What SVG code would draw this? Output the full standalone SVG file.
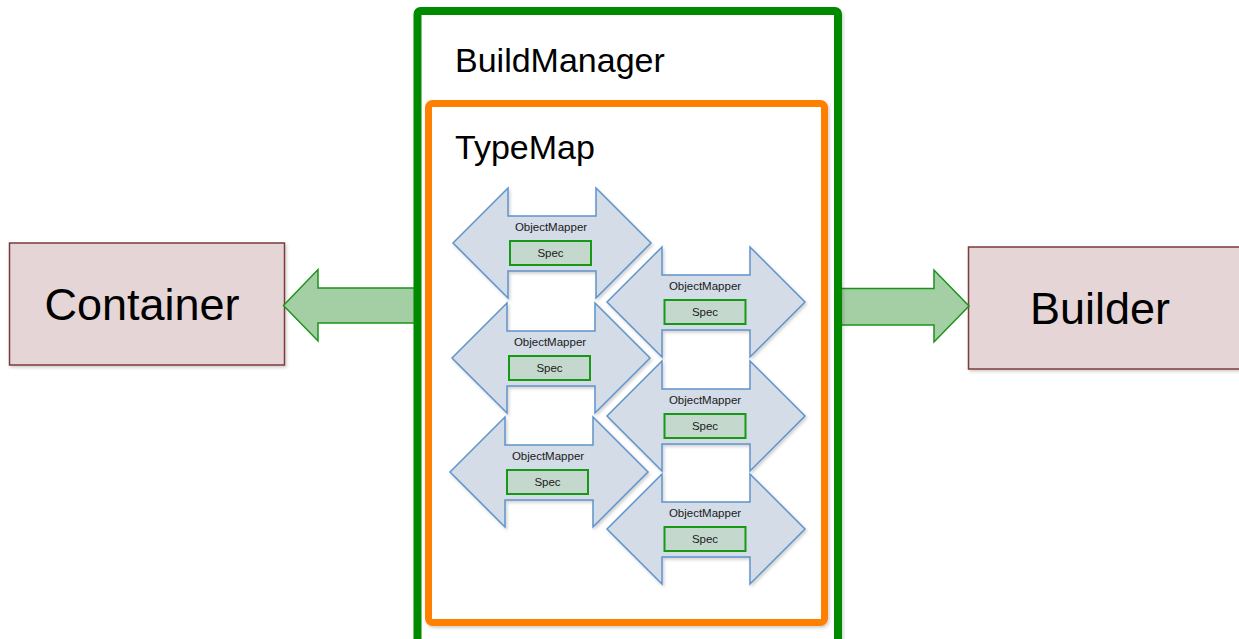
<svg xmlns="http://www.w3.org/2000/svg" width="1239" height="639" viewBox="0 0 1239 639">
<defs>
<filter id="sh" x="-10%" y="-10%" width="130%" height="130%">
<feDropShadow dx="1.5" dy="2" stdDeviation="1.5" flood-color="#000" flood-opacity="0.18"/>
</filter>
<path id="om" d="M0,0 L55,-55 L55,-27 L143,-27 L143,-55 L198,0 L143,55 L143,28 L55,28 L55,55 Z"/>
</defs>
<style>
.bg{fill:#ffffff}
.ext{fill:#e5d5d6;stroke:#7d3b3b;stroke-width:1.5}
.big{font-family:"Liberation Sans",Arial,sans-serif;font-size:45px;fill:#000}
.title{font-family:"Liberation Sans",Arial,sans-serif;font-size:34px;fill:#000}
.frame-g{fill:#fff;stroke:#008a00;stroke-width:8}
.frame-o{fill:#fff;stroke:#ff7f00;stroke-width:7}
.arr{fill:#d3dce7;stroke:#5f93cc;stroke-width:1.5}
.spec{fill:#c4d8cd;stroke:#169a16;stroke-width:2}
.sm{font-family:"Liberation Sans",Arial,sans-serif;font-size:11.5px;fill:#1a1a1a;text-anchor:middle}
.conn{fill:#a4cfa4;stroke:#1a941a;stroke-width:1.5}
</style>
<rect class="bg" width="1239" height="639"/>

<g id="container">
<rect class="ext" x="9.5" y="243" width="275" height="122" filter="url(#sh)"/>
<text class="big" x="142" y="320" text-anchor="middle">Container</text>
</g>

<g id="builder">
<rect class="ext" x="968.5" y="247" width="276" height="122" filter="url(#sh)"/>
<text class="big" x="1100" y="324" text-anchor="middle">Builder</text>
</g>

<g id="connectors">
<polygon class="conn" points="415,288 318,288 318,269.5 283.5,305.5 318,341 318,323 415,323"/>
<polygon class="conn" points="838,288.5 934,288.5 934,270 969,306 934,342 934,325 838,325"/>
</g>

<g id="buildmanager">
<rect class="frame-g" x="417.5" y="11" width="420.5" height="632" rx="3" filter="url(#sh)"/>
<text class="title" x="455" y="72">BuildManager</text>
</g>

<g id="typemap">
<rect class="frame-o" x="428.5" y="103.5" width="396" height="519" rx="4" filter="url(#sh)"/>
<text class="title" x="455" y="159">TypeMap</text>
</g>

<g id="om1">
<use href="#om" class="arr" transform="translate(453,243)" filter="url(#sh)"/>
<text class="sm" x="551" y="231">ObjectMapper</text>
<rect class="spec" x="510" y="241" width="81" height="24"/>
<text class="sm" x="550.5" y="257">Spec</text>
</g>

<g id="om2">
<use href="#om" class="arr" transform="translate(452,358)" filter="url(#sh)"/>
<text class="sm" x="550" y="346">ObjectMapper</text>
<rect class="spec" x="509" y="356" width="81" height="24"/>
<text class="sm" x="549.5" y="372">Spec</text>
</g>

<g id="om3">
<use href="#om" class="arr" transform="translate(450,472)" filter="url(#sh)"/>
<text class="sm" x="548" y="460">ObjectMapper</text>
<rect class="spec" x="507" y="470" width="81" height="24"/>
<text class="sm" x="547.5" y="486">Spec</text>
</g>

<g id="om4">
<use href="#om" class="arr" transform="translate(607,302)" filter="url(#sh)"/>
<text class="sm" x="705" y="290">ObjectMapper</text>
<rect class="spec" x="664.5" y="300" width="81" height="24"/>
<text class="sm" x="705" y="316">Spec</text>
</g>

<g id="om5">
<use href="#om" class="arr" transform="translate(607,416)" filter="url(#sh)"/>
<text class="sm" x="705" y="404">ObjectMapper</text>
<rect class="spec" x="664.5" y="414" width="81" height="24"/>
<text class="sm" x="705" y="430">Spec</text>
</g>

<g id="om6">
<use href="#om" class="arr" transform="translate(607,529)" filter="url(#sh)"/>
<text class="sm" x="705" y="517">ObjectMapper</text>
<rect class="spec" x="664.5" y="527" width="81" height="24"/>
<text class="sm" x="705" y="543">Spec</text>
</g>
</svg>
